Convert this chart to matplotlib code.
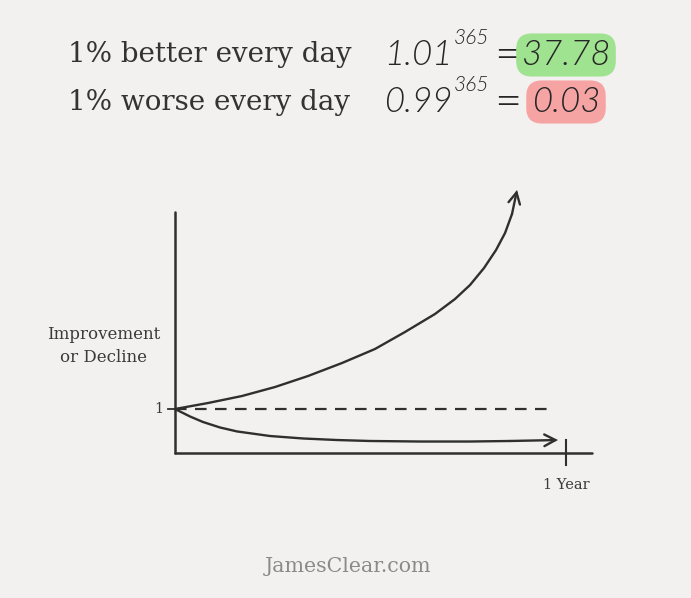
import matplotlib.pyplot as plt

# curves (x in days, y relative to the start value 1)
days_up = [0, 30.8, 62.5, 93.4, 124.2, 155.9, 186.7, 214.7, 242.7, 261.4,
           275.4, 288.5, 299.7, 308.1, 314.6, 319.3]
val_up = [1.0, 1.136, 1.295, 1.5, 1.75, 2.045, 2.364, 2.75, 3.159, 3.5,
          3.818, 4.205, 4.614, 5.0, 5.432, 5.977]
days_down = [0, 14.0, 26.1, 42.0, 57.9, 88.7, 119.5, 151.2, 182.0, 228.7, 275.4, 312.7, 357.5]
val_down = [1.0, 0.83, 0.705, 0.58, 0.49, 0.386, 0.33, 0.295, 0.273, 0.261, 0.261, 0.273, 0.295]
days_flat = [0, 355]
val_flat = [1, 1]

year_end = 365
x_axis_end = 389
y_axis_top = 5.48

title_lines = ["1% better every day", "1% worse every day"]
bases = ["1.01", "0.99"]
exponent = "365"
results = ["37.78", "0.03"]
result_colors = ["#9fe28f", "#f5a3a3"]

bg = "#f2f1ef"
ink = "#2f2f2f"
W, H = 691, 598

fig = plt.figure(figsize=(W / 100, H / 100), dpi=100, facecolor=bg)

# axes placed so day 0 sits at px 175 and value 0 at px 453
px_per_day = (566 - 175) / 365
px_per_unit = 44
xmax, ymax = 400, 6.3
ax = fig.add_axes([175 / W, (H - 453) / H, xmax * px_per_day / W, ymax * px_per_unit / H])
ax.set_xlim(0, xmax)
ax.set_ylim(0, ymax)
ax.patch.set_alpha(0)
for s in ["top", "right"]:
    ax.spines[s].set_visible(False)
for s in ["left", "bottom"]:
    ax.spines[s].set_color(ink)
    ax.spines[s].set_linewidth(1.8)
    ax.spines[s].set_capstyle("round")
ax.spines["bottom"].set_bounds(0, x_axis_end)
ax.spines["left"].set_bounds(0, y_axis_top)
ax.set_xticks([])
ax.set_yticks([])

lw = 1.7
ax.plot(days_up[:-1], val_up[:-1], color=ink, lw=lw, clip_on=False, solid_capstyle="round",
        solid_joinstyle="round")
ax.plot(days_down[:-1], val_down[:-1], color=ink, lw=lw, clip_on=False, solid_capstyle="round",
        solid_joinstyle="round")
ax.plot(days_flat, val_flat, color=ink, lw=1.6, ls=(0, (5.2, 3.8)), clip_on=False)
arrow = dict(arrowstyle="->,head_length=0.8,head_width=0.42", color=ink, lw=lw,
             shrinkA=0, shrinkB=0, joinstyle="miter", capstyle="round")
ax.annotate("", xy=(days_up[-1], val_up[-1]), xytext=(days_up[-2], val_up[-2]),
            arrowprops=arrow, annotation_clip=False)
ax.annotate("", xy=(days_down[-1], val_down[-1]), xytext=(days_down[-2], val_down[-2]),
            arrowprops=arrow, annotation_clip=False)

# tick marks at 1 and at one year
ax.plot([-6.5, 0], [1, 1], color=ink, lw=1.3, clip_on=False)
ax.plot([year_end, year_end], [-0.27, 0.30], color=ink, lw=1.5, clip_on=False)

serif = "DejaVu Serif"
ax.text(-11, 1, "1", ha="right", va="center", family=serif, fontsize=10.5, color="#3a3a3a")
ax.text(year_end, -0.72, "1 Year", ha="center", va="center", family=serif, fontsize=10.5,
        color="#3a3a3a")
fig.text(104 / W, 1 - 346 / H, "Improvement\nor Decline", ha="center", va="center",
         family=serif, fontsize=12, color="#3a3a3a", linespacing=1.45)

# header lines
hand = dict(family=["Lato", "DejaVu Sans"], fontweight=300, color="#262626")
rows_y = [55, 102]
for i in range(2):
    y = 1 - rows_y[i] / H
    fig.text(68 / W, y, title_lines[i], ha="left", va="center", family=serif,
             fontsize=20, color="#333333")
    fig.text(418 / W, y, bases[i], ha="center", va="center", fontsize=25,
             fontstyle="italic", **hand)
    fig.text(471 / W, 1 - (rows_y[i] - 17) / H, exponent, ha="center", va="center",
             fontsize=15, fontstyle="italic", **hand)
    fig.text(508 / W, 1 - (rows_y[i] + 1) / H, "=", ha="center", va="center", fontsize=34, **hand)
    fig.text(566 / W, y, results[i], ha="center", va="center", fontsize=25,
             fontstyle="italic", **hand,
             bbox=dict(boxstyle="round,pad=0.16,rounding_size=0.45",
                       facecolor=result_colors[i], edgecolor="none"))

fig.text(348 / W, 1 - 567 / H, "JamesClear.com", ha="center", va="center",
         family=serif, fontsize=14.8, color="#8a8a8a")

fig.savefig("out.png", dpi=100, facecolor=bg)
